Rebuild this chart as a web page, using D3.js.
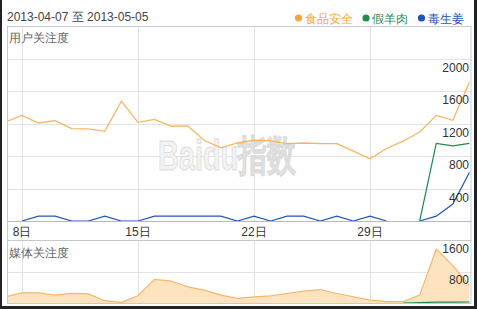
<!DOCTYPE html>
<html><head><meta charset="utf-8">
<script src="https://cdn.jsdelivr.net/npm/d3@7"></script>
<style>
html,body{margin:0;padding:0;background:#fff;}
svg{display:block;}
text{font-family:"Liberation Sans",Arial,sans-serif;}
</style></head>
<body><svg id="c" width="477" height="309"></svg>
<script>
// ---- data ----
const dateRange = "2013-04-07 至 2013-05-05";
const seriesNames = ["食品安全", "假羊肉", "毒生姜"];
const seriesColors = ["#f5a53a", "#1e8a50", "#1f55b8"];
const dayIndex = d3.range(29); // 2013-04-07 .. 2013-05-05
const xTickIdx = [1, 8, 15, 22];
const xTickLabels = ["8日", "15日", "22日", "29日"];

// 用户关注度
const userFood = [1218,1300,1206,1235,1137,1135,1104,1476,1215,1250,1166,1170,994,900,960,994,985,953,960,953,953,859,765,892,982,1096,1300,1239,1709];
const userLamb = [0,0,0,0,0,0,0,0,0,0,0,0,0,0,0,0,0,0,0,0,0,0,0,0,0,0,955,925,955];
const userGinger = [0,0,60,60,0,0,60,0,0,60,60,60,60,60,0,60,0,60,60,0,60,0,60,0,0,0,60,208,597];
const userTicks = [400, 800, 1200, 1600, 2000];

// 媒体关注度
const mediaFood = [158,258,258,200,242,233,58,17,183,600,558,408,325,200,117,158,183,242,300,342,242,158,75,33,33,200,1367,950,450];
const mediaLamb = [0,0,0,0,0,0,0,0,0,0,0,0,0,0,0,0,0,0,0,0,0,0,0,0,0,10,20,20,25];
const mediaTicks = [800, 1600];

// ---- layout ----
const svg = d3.select("#c");
const L = 7, R = 471.5;
const topT = 26, topB = 221, botT = 240, botB = 303;

const x = d3.scaleLinear().domain([0, 28]).range([5.4, 469.4]);
const yU = d3.scaleLinear().domain([0, 2400]).range([topB, topT]);
const yM = d3.scaleLinear().domain([0, 1600]).range([botB, botT]);

// a point is drawn when it or a neighbour is non-zero (zero runs sit under the axis)
const shown = arr => (d,i) => d > 0 || (i > 0 && arr[i-1] > 0) || (i < arr.length-1 && arr[i+1] > 0);

const defs = svg.append("defs");
defs.append("clipPath").attr("id","clipU")
  .append("rect").attr("x",L).attr("y",topT).attr("width",R-L).attr("height",topB-topT);
defs.append("clipPath").attr("id","clipM")
  .append("rect").attr("x",L).attr("y",botT).attr("width",R-L).attr("height",botB-botT);

const gridC = "#e3e3e3", frameC = "#c4ccdc";

// horizontal grid
svg.append("g").selectAll("line").data(userTicks).join("line")
  .attr("x1",L).attr("x2",R).attr("y1",d=>Math.round(yU(d))+0.5).attr("y2",d=>Math.round(yU(d))+0.5)
  .attr("stroke",gridC);
svg.append("g").selectAll("line").data(mediaTicks.slice(0,1)).join("line")
  .attr("x1",L).attr("x2",R).attr("y1",d=>Math.round(yM(d))+0.5).attr("y2",d=>Math.round(yM(d))+0.5)
  .attr("stroke",gridC);
// vertical grid
const vg = svg.append("g");
vg.selectAll("line.a").data(xTickIdx).join("line").attr("class","a")
  .attr("x1",d=>Math.round(x(d))+0.5).attr("x2",d=>Math.round(x(d))+0.5)
  .attr("y1",topT).attr("y2",topB).attr("stroke",gridC);
vg.selectAll("line.b").data(xTickIdx).join("line").attr("class","b")
  .attr("x1",d=>Math.round(x(d))+0.5).attr("x2",d=>Math.round(x(d))+0.5)
  .attr("y1",botT).attr("y2",botB).attr("stroke",gridC);

// watermark
svg.append("text").attr("x",158).attr("y",170)
  .attr("font-size",42).attr("font-weight","bold")
  .attr("textLength",138).attr("lengthAdjust","spacingAndGlyphs")
  .attr("fill","#f3f3f3").attr("stroke","#dcdcdc").attr("stroke-width",1)
  .text("Baidu指数");

// media area
const area = d3.area().x((d,i)=>x(i)).y0(yM(0)).y1(d=>yM(d));
const lineM = d3.line().x((d,i)=>x(i)).y(d=>yM(d));
const gM = svg.append("g").attr("clip-path","url(#clipM)");
gM.append("path").datum(mediaFood).attr("d",area).attr("fill","#fde3c0");
gM.append("path").datum(mediaFood).attr("d",lineM).attr("fill","none").attr("stroke","#f5b86a").attr("stroke-width",1.2);
gM.append("path").datum(mediaLamb).attr("d",lineM.defined(shown(mediaLamb))).attr("fill","none").attr("stroke",seriesColors[1]).attr("stroke-width",1.2);

// user lines
const lineU = d3.line().x((d,i)=>x(i)).y(d=>yU(d));
const gU = svg.append("g").attr("clip-path","url(#clipU)");
gU.append("path").datum(userGinger).attr("d",lineU.defined(shown(userGinger))).attr("fill","none").attr("stroke",seriesColors[2]).attr("stroke-width",1.2);
gU.append("path").datum(userLamb).attr("d",lineU.defined(shown(userLamb))).attr("fill","none").attr("stroke",seriesColors[1]).attr("stroke-width",1.2);
gU.append("path").datum(userFood).attr("d",lineU.defined(()=>true)).attr("fill","none").attr("stroke","#f5b660").attr("stroke-width",1.3);

// frames
svg.append("rect").attr("x",L+0.5).attr("y",topT+0.5).attr("width",R-L-1).attr("height",botB-topT)
  .attr("fill","none").attr("stroke",frameC);
svg.append("line").attr("x1",L).attr("x2",R).attr("y1",topB+0.5).attr("y2",topB+0.5).attr("stroke","#b9b9b9");
svg.append("line").attr("x1",L).attr("x2",R).attr("y1",botT+0.5).attr("y2",botT+0.5).attr("stroke","#c8c8c8");

// x axis labels
svg.append("g").selectAll("text").data(xTickIdx).join("text")
  .attr("x",d=>x(d)).attr("y",235.5).attr("text-anchor","middle")
  .attr("font-size",12).attr("fill","#333").text((d,i)=>xTickLabels[i]);

// y tick labels
const mono = "'Liberation Mono','Courier New',monospace";
svg.append("g").selectAll("text").data(userTicks).join("text")
  .attr("x",469).attr("y",d=>yU(d)+13).attr("text-anchor","end")
  .attr("font-family",mono).attr("font-size",12).attr("fill","#333").text(d=>d);
svg.append("g").selectAll("text").data(mediaTicks).join("text")
  .attr("x",469).attr("y",d=>yM(d)+12.5).attr("text-anchor","end")
  .attr("font-family",mono).attr("font-size",12).attr("fill","#333").text(d=>d);

// panel titles
svg.append("text").attr("x",9).attr("y",42).attr("font-size",12).attr("fill","#666").text("用户关注度");
svg.append("text").attr("x",9).attr("y",256.5).attr("font-size",12).attr("fill","#666").text("媒体关注度");

// header
svg.append("text").attr("x",7).attr("y",21).attr("font-size",12).attr("fill","#444").text(dateRange);

// legend
const legX = [298.5, 366, 421.5];
const lg = svg.append("g").selectAll("g").data(seriesNames).join("g")
  .attr("transform",(d,i)=>`translate(${legX[i]},18)`);
lg.append("circle").attr("r",3.6).attr("fill",(d,i)=>seriesColors[i]);
lg.append("text").attr("x",6).attr("y",4.5).attr("font-size",12)
  .attr("font-family","'Noto Sans CJK SC',sans-serif")
  .attr("fill",(d,i)=>seriesColors[i]).text(d=>d);

// outer dark border (left, right, bottom)
svg.append("rect").attr("x",0).attr("y",0).attr("width",2).attr("height",309).attr("fill","#222");
svg.append("rect").attr("x",474).attr("y",0).attr("width",3).attr("height",309).attr("fill","#222");
svg.append("rect").attr("x",0).attr("y",306).attr("width",477).attr("height",3).attr("fill","#222");
</script></body></html>
